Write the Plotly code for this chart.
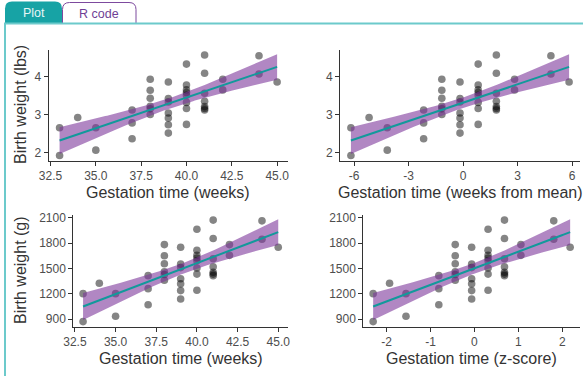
import numpy as np
import plotly.graph_objects as go

# ---- data ----
gestation_weeks = [33, 33, 34, 35, 35, 37, 37, 37,
                   38, 38, 38, 38, 38, 38,
                   39, 39, 39, 39, 39, 39, 39,
                   40, 40, 40, 40, 40, 40, 40, 40,
                   41, 41, 41, 41, 41, 41, 41,
                   42, 42, 44, 44, 45]
birth_weight_lbs = [2.65, 1.92, 2.92, 2.65, 2.06, 3.12, 2.78, 2.36,
                    3.93, 3.64, 3.43, 3.22, 3.15, 3.00,
                    3.86, 3.42, 3.33, 3.04, 2.91, 2.73, 2.51,
                    4.33, 3.78, 3.65, 3.58, 3.51, 3.32, 3.16, 2.74,
                    4.57, 4.09, 3.56, 3.35, 3.21, 3.16, 3.12,
                    3.93, 3.65, 4.55, 4.07, 3.86]
GRAMS_PER_LB = 453.592

top_y_ticks = [2, 3, 4]
bottom_y_ticks = [900, 1200, 1500, 1800, 2100]
weeks_ticks = [32.5, 35.0, 37.5, 40.0, 42.5, 45.0]
centered_ticks = [-6, -3, 0, 3, 6]
z_ticks = [-2, -1, 0, 1, 2]

x_titles = ["Gestation time (weeks)", "Gestation time (weeks from mean)",
            "Gestation time (weeks)", "Gestation time (z-score)"]
y_titles = ["Birth weight (lbs)", "Birth weight (g)"]
tab_labels = ["Plot", "R code"]

# ---- derived variables (as in the original analysis) ----
gw = np.array(gestation_weeks, float)
bw_lbs = np.array(birth_weight_lbs, float)
bw_g = bw_lbs * GRAMS_PER_LB
gw_c = gw - gw.mean()
gw_z = gw_c / gw.std(ddof=1)

W, H = 583, 376
def px(x): return x / W
def py(y): return 1 - y / H

TEAL_LINE = "#12999b"
BAND = "rgba(125,55,155,0.6)"
PT = "rgba(0,0,0,0.48)"
FONT = "Liberation Sans, Arial, sans-serif"


def fit_band(x, y, n=120):
    b1, b0 = np.polyfit(x, y, 1)
    xs = np.linspace(x.min(), x.max(), n)
    yhat = b0 + b1 * xs
    resid = y - (b0 + b1 * x)
    s = np.sqrt((resid ** 2).sum() / (len(x) - 2))
    sxx = ((x - x.mean()) ** 2).sum()
    se = s * np.sqrt(1 / len(x) + (xs - x.mean()) ** 2 / sxx)
    t = 2.0227  # t(0.975, df=39)
    return xs, yhat, yhat - t * se, yhat + t * se


def rng(v):
    lo, hi = float(np.min(v)), float(np.max(v))
    sp = hi - lo
    return [lo - 0.05 * sp, hi + 0.05 * sp]


fig = go.Figure()

panels = [
    (gw, bw_lbs, (48.7, 288), (50, 160.5), weeks_ticks, top_y_ticks, ".1f"),
    (gw_c, bw_lbs, (340, 580), (50, 160.5), centered_ticks, top_y_ticks, "d"),
    (gw, bw_g, (73.3, 288), (215, 326.7), weeks_ticks, bottom_y_ticks, ".1f"),
    (gw_z, bw_g, (363.3, 580), (215, 326.7), z_ticks, bottom_y_ticks, "d"),
]

layout_axes = {}
for i, (x, y, xd, yd, xt, yt, fmt) in enumerate(panels, start=1):
    sfx = "" if i == 1 else str(i)
    xa, ya = "x" + sfx, "y" + sfx
    fig.add_trace(go.Scatter(x=x, y=y, mode="markers", xaxis=xa, yaxis=ya,
                             marker=dict(size=7.6, color=PT, line=dict(width=0)),
                             showlegend=False, hoverinfo="skip"))
    xs, yh, lo, hi = fit_band(x, y)
    fig.add_trace(go.Scatter(x=np.concatenate([xs, xs[::-1]]),
                             y=np.concatenate([lo, hi[::-1]]),
                             fill="toself", fillcolor=BAND, line=dict(width=0),
                             mode="lines", xaxis=xa, yaxis=ya,
                             showlegend=False, hoverinfo="skip"))
    fig.add_trace(go.Scatter(x=xs, y=yh, mode="lines", xaxis=xa, yaxis=ya,
                             line=dict(color=TEAL_LINE, width=2),
                             showlegend=False, hoverinfo="skip"))
    common = dict(showline=True, linecolor="#333333", linewidth=1,
                  ticks="outside", ticklen=4, tickcolor="#333333",
                  tickfont=dict(size=12, color="#4D4D4D", family=FONT),
                  showgrid=False, zeroline=False, fixedrange=True, automargin=False)
    layout_axes["xaxis" + sfx] = dict(domain=[px(xd[0]), px(xd[1])], anchor=ya,
                                      range=rng(x), tickvals=xt,
                                      ticktext=[format(v, fmt) if fmt != "d" else str(v) for v in xt],
                                      **common)
    layout_axes["yaxis" + sfx] = dict(domain=[py(yd[1]), py(yd[0])], anchor=xa,
                                      range=rng(y), tickvals=yt, **common)
    fig.add_annotation(text=x_titles[i - 1], xref="paper", yref="paper",
                       x=px((xd[0] + xd[1]) / 2),
                       y=py(192.7 if i <= 2 else 358),
                       showarrow=False, xanchor="center", yanchor="middle",
                       font=dict(size=16, color="#333333", family=FONT))

fig.add_annotation(text=y_titles[0], xref="paper", yref="paper", x=px(20), y=py(105),
                   textangle=-90, showarrow=False, xanchor="center", yanchor="middle",
                   font=dict(size=16, color="#333333", family=FONT))
fig.add_annotation(text=y_titles[1], xref="paper", yref="paper", x=px(20), y=py(270),
                   textangle=-90, showarrow=False, xanchor="center", yanchor="middle",
                   font=dict(size=16, color="#333333", family=FONT))

# ---- tab chrome ----
def rtab(x0, x1, y0, y1, r=7):
    return (f"M {px(x0)} {py(y1)} L {px(x0)} {py(y0 + r)} "
            f"Q {px(x0)} {py(y0)} {px(x0 + r)} {py(y0)} "
            f"L {px(x1 - r)} {py(y0)} Q {px(x1)} {py(y0)} {px(x1)} {py(y0 + r)} "
            f"L {px(x1)} {py(y1)} Z")

shapes = [
    dict(type="path", xref="paper", yref="paper", path=rtab(5, 62, 1.5, 23.5),
         fillcolor="#17a3a5", line=dict(width=0), layer="below"),
    dict(type="path", xref="paper", yref="paper", path=rtab(62.5, 136, 2.5, 23.5),
         fillcolor="white", line=dict(color="#7d4a9e", width=1), layer="below"),
    dict(type="line", xref="paper", yref="paper", x0=px(4), x1=px(583),
         y0=py(23.5), y1=py(23.5), line=dict(color="#6ccacb", width=2), layer="below"),
    dict(type="line", xref="paper", yref="paper", x0=px(5), x1=px(5),
         y0=py(23), y1=py(376), line=dict(color="#6ccacb", width=2), layer="below"),
]
fig.add_annotation(text=tab_labels[0], xref="paper", yref="paper", x=px(33.5), y=py(13),
                   showarrow=False, xanchor="center", yanchor="middle",
                   font=dict(size=12.5, color="#e6f6f6", family=FONT))
fig.add_annotation(text=tab_labels[1], xref="paper", yref="paper", x=px(99), y=py(13.5),
                   showarrow=False, xanchor="center", yanchor="middle",
                   font=dict(size=12.5, color="#6f3f95", family=FONT))

fig.update_layout(width=W, height=H,
                  margin=dict(l=0, r=0, t=0, b=0, pad=0, autoexpand=False),
                  paper_bgcolor="white", plot_bgcolor="white",
                  shapes=shapes, showlegend=False, **layout_axes)

fig.write_html("out.html", config={"displayModeBar": False},
               post_script="document.body.style.margin='0';document.body.style.padding='0';"
                           "document.documentElement.style.margin='0';")
